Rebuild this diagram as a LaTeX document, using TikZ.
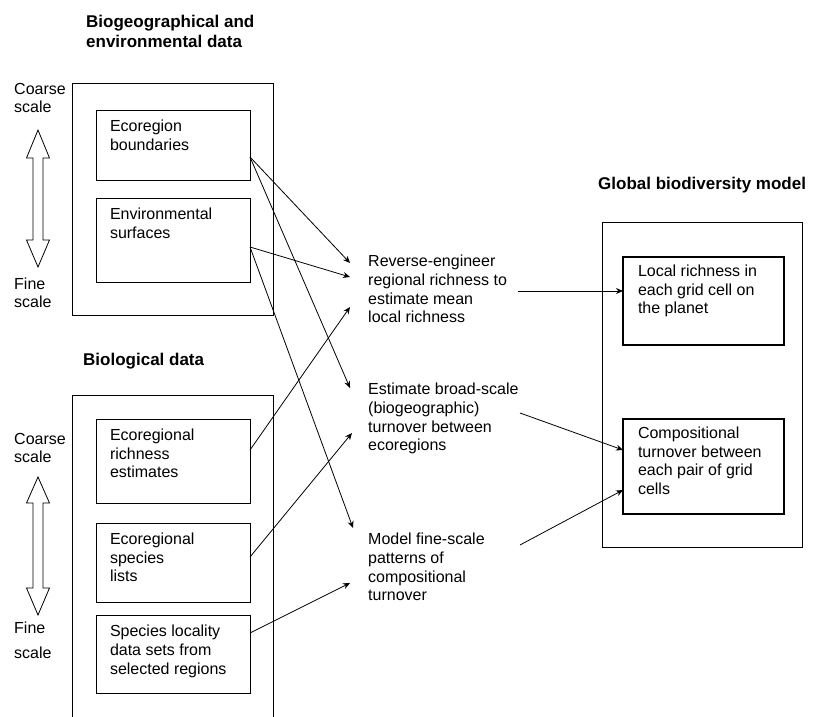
\documentclass[tikz,border=0pt]{standalone}
\usepackage{fontspec}
\setmainfont{Liberation Sans}
\usetikzlibrary{arrows.meta,calc}
\newcommand{\bxt}[3]{\begin{minipage}[t][#1][t]{#2}\fontsize{16}{18.7}\selectfont\raggedright #3\end{minipage}}
\begin{document}
\begin{tikzpicture}[x=1pt,y=-1pt,
  frame/.style={draw, line width=0.8pt, rectangle, anchor=north west, inner sep=0pt, outer sep=0pt},
  box/.style={draw, line width=0.8pt, rectangle, anchor=north west, inner xsep=14pt, inner ysep=10pt, outer sep=0pt},
  tbox/.style={box, line width=2pt, inner xsep=15pt, inner ysep=8pt},
  title/.style={font=\fontsize{17}{20}\selectfont\bfseries, align=left, anchor=north west, inner sep=0pt},
  txt/.style={font=\fontsize{16}{18.7}\selectfont, align=left, anchor=north west, inner sep=0pt},
  side/.style={font=\fontsize{16}{18}\selectfont, align=left, anchor=north west, inner sep=0pt},
  arr/.style={-{Stealth[length=7pt,width=6pt]}, line width=0.8pt},
  dbl/.style={draw, line width=0.8pt, line join=miter}
]
\useasboundingbox (0,0) rectangle (819,717);

% titles
\node[title] (t1) at (86,15) {Biogeographical and\\environmental data};
\node[title] (t2) at (83,353) {Biological data};
\node[title] (t3) at (598,177) {Global biodiversity model};

% left group 1
\node[frame, minimum width=201pt, minimum height=232pt] (f1) at (72,83) {};
\node[side] (c1) at (14,83) {Coarse\\scale};
\node[side] (s1) at (14,278) {Fine\\scale};
\draw[dbl] (38,130) -- (26.5,158) -- (33,158) -- (33,240) -- (26.5,240) -- (38,267)
  -- (49.5,240) -- (43,240) -- (43,158) -- (49.5,158) -- cycle;
\node[box] (eb) at (96,110) {\bxt{50pt}{126pt}{Ecoregion\\boundaries}};
\node[box] (es) at (96,198) {\bxt{64pt}{126pt}{Environmental\\surfaces}};

% left group 2 (open at bottom)
\draw[line width=0.8pt] (72,725) |- (273,395) -- (273,725);
\coordinate (f2) at (72,395);
\node[side] (c2) at (14,433) {Coarse\\scale};
\node[side] (s2) at (14,622) {Fine\\[7pt]scale};
\draw[dbl] (38,477) -- (26.5,503) -- (33,503) -- (33,588) -- (26.5,588) -- (38,615)
  -- (49.5,588) -- (43,588) -- (43,503) -- (49.5,503) -- cycle;
\node[box] (er) at (96,419) {\bxt{64pt}{126pt}{Ecoregional\\richness\\estimates}};
\node[box] (el) at (96,523) {\bxt{59pt}{126pt}{Ecoregional\\species\\lists}};
\node[box] (sl) at (96,615) {\bxt{58pt}{126pt}{Species locality\\data sets from\\selected regions}};

% middle
\node[txt] (rev) at (368,255) {Reverse-engineer\\regional richness to\\estimate mean\\local richness};
\node[txt] (est) at (368,383) {Estimate broad-scale\\(biogeographic)\\turnover between\\ecoregions};
\node[txt] (mod) at (368,533) {Model fine-scale\\patterns of\\compositional\\turnover};

% right
\node[frame, minimum width=200pt, minimum height=325pt] (f3) at (602,222) {};
\node[tbox] (lr) at (623,257) {\bxt{72pt}{131pt}{Local richness in\\each grid cell on\\the planet}};
\node[tbox] (ct) at (623,419) {\bxt{79pt}{131pt}{Compositional\\turnover between\\each pair of grid\\cells}};

% connectors
\draw[arr] ($(eb.north east)+(0,47)$) -- ($(rev.north west)+(-18,8)$);
\draw[arr] ($(eb.north east)+(0,47)$) -- ($(est.north west)+(-18,5)$);
\draw[arr] ($(es.north east)+(0,49)$) -- ($(rev.north west)+(-18,22)$);
\draw[arr] ($(es.north east)+(0,49)$) -- ($(mod.north west)+(-15,-5)$);
\draw[arr] ($(er.north east)+(0,31)$) -- ($(rev.north west)+(-18,52)$);
\draw[arr] ($(el.north east)+(0,34)$) -- ($(est.north west)+(-16,50)$);
\draw[arr] ($(sl.north east)+(0,18)$) -- ($(mod.north west)+(-18,50)$);

\draw[arr] ($(rev.north west)+(150,36)$) -- ($(lr.north west)+(0,34)$);
\draw[arr] ($(est.north west)+(152,30)$) -- ($(ct.north west)+(0,31)$);
\draw[arr] ($(mod.north west)+(152,12)$) -- ($(ct.north west)+(0,71)$);
\end{tikzpicture}
\end{document}
